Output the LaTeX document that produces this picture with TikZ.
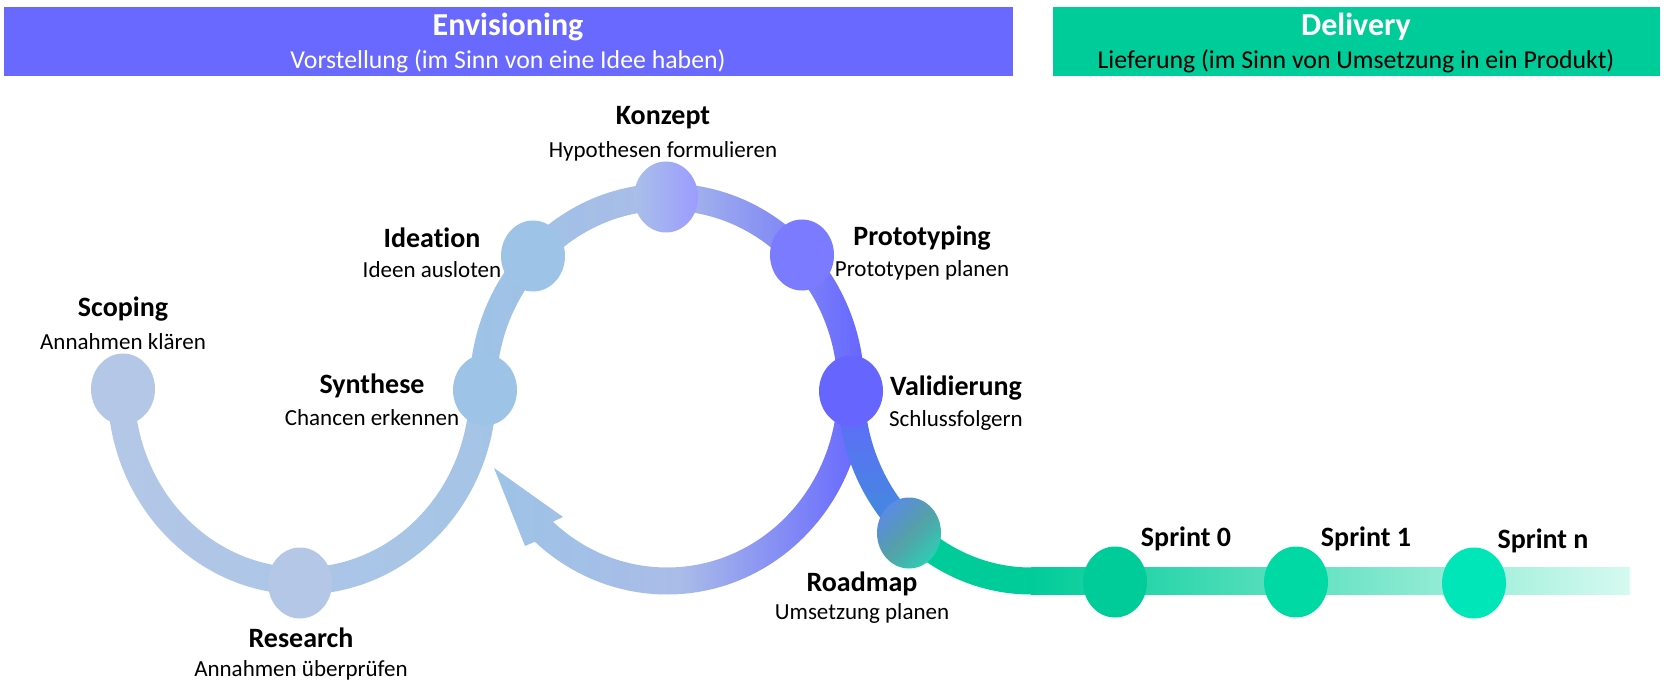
\documentclass[tikz,border=0pt]{standalone}
\usepackage{fontspec}
\setmainfont{Carlito}[Ligatures=NoCommon]
\usetikzlibrary{shapes.geometric}
\usetikzlibrary{calc}

\definecolor{envheader}{HTML}{6969FF}
\definecolor{envviolet}{HTML}{6666FF}
\definecolor{delgreen}{HTML}{00CC99}
\definecolor{scopeblue}{HTML}{B4C7E7}
\definecolor{synblue}{HTML}{9DC3E6}
\definecolor{midblue}{HTML}{AABCE8}
\definecolor{protoviolet}{HTML}{7B7BFF}
\definecolor{konzleft}{HTML}{A9C0E8}
\definecolor{konzright}{HTML}{9C9CFF}
\definecolor{roadblue}{HTML}{3D8FD9}
\definecolor{roadtop}{HTML}{5B8BE3}
\definecolor{roadmid}{HTML}{55A0A8}
\definecolor{roadteal}{HTML}{2ECCB3}
\definecolor{sprintone}{HTML}{00D9A3}
\definecolor{sprintn}{HTML}{00E6B8}
\definecolor{fadegreen}{HTML}{D6FAF0}

\tikzset{
  head_bar/.style={rectangle, draw=none, minimum height=34.5pt, inner sep=0},
  head_title/.style={font=\fontsize{16}{18}\selectfont\bfseries, text=white, inner sep=0},
  head_text/.style={font=\fontsize{12.9}{15}\selectfont, inner sep=0},
  stage_point/.style={ellipse, draw=none, minimum width=32pt, minimum height=35.5pt, inner sep=0},
  stage_title/.style={font=\fontsize{14}{16}\selectfont\bfseries, inner sep=0},
  stage_text/.style={font=\fontsize{11.5}{14}\selectfont, inner sep=0}
}

\begin{document}
\begin{tikzpicture}[x=0.5pt, y=-0.5pt]
\useasboundingbox (0,0) rectangle (1664,684);

%%% header bars
\node[head_bar, fill=envheader, minimum width=504.5pt] (env_bar) at (508.5,41.5) {};
\node[head_title] (env_title) at (508,27) {Envisioning};
\node[head_text, text=white] (env_text) at (508,61) {Vorstellung (im Sinn von eine Idee haben)};
\node[head_bar, fill=delgreen, minimum width=303.5pt] (del_bar) at (1356.5,41.5) {};
\node[head_title] (del_title) at (1356,27) {Delivery};
\node[head_text] (del_text) at (1356,61) {Lieferung (im Sinn von Umsetzung in ein Produkt)};

\coordinate (leftC) at (302,389);
\coordinate (loopC) at (667,389);
\coordinate (roadC) at (1031,389);

%%% left arc: Scoping - Research - Synthese
\shade[left color=scopeblue, right color=synblue!70!scopeblue]
  (leftC) ++(180:194.5 and 205.5)
  arc[start angle=180, end angle=0, x radius=194.5, y radius=205.5]
  -- ++(180:27)
  arc[start angle=0, end angle=180, x radius=167.5, y radius=178.5] -- cycle;

%%% loop top: Synthese - Konzept - Validierung
\shade[left color=synblue, right color=envviolet, middle color=midblue]
  (loopC) ++(180:197.5 and 205.5)
  arc[start angle=180, end angle=360, x radius=197.5, y radius=205.5]
  -- ++(180:27)
  arc[start angle=360, end angle=180, x radius=170.5, y radius=178.5] -- cycle;

%%% loop bottom, arrow back to Synthese
\shade[left color=synblue, right color=envviolet, middle color=midblue]
  (loopC) ++(0:197.5 and 205.5)
  arc[start angle=0, end angle=132, x radius=197.5, y radius=205.5]
  -- (525,546) -- (494,468) -- (563,517)
  -- ($(loopC)+(132:170.5 and 178.5)$)
  arc[start angle=132, end angle=0, x radius=170.5, y radius=178.5] -- cycle;

%%% branch Validierung - Roadmap
\shade[top color=envviolet, bottom color=roadblue]
  (roadC) ++(180:193.5 and 205.5)
  arc[start angle=180, end angle=132, x radius=193.5, y radius=205.5]
  -- ++(312:27)
  arc[start angle=132, end angle=180, x radius=166.5, y radius=178.5] -- cycle;

%%% green curve down to the sprint line
\fill[delgreen]
  (roadC) ++(132:193.5 and 205.5)
  arc[start angle=132, end angle=90, x radius=193.5, y radius=205.5]
  -- ++(270:27)
  arc[start angle=90, end angle=132, x radius=166.5, y radius=178.5] -- cycle;

%%% sprint line
\shade[left color=delgreen, right color=fadegreen] (1031,567.5) rectangle (1630,594.5);

%%% stage points
\node[stage_point, fill=scopeblue] (scoping) at (123,389) {};
\node[stage_point, fill=scopeblue] (research) at (300,583) {};
\node[stage_point, fill=synblue] (synthese) at (485,390) {};
\node[stage_point, fill=synblue] (ideation) at (533,256) {};
\node[stage_point, left color=konzleft, right color=konzright] (konzept) at (666,197) {};
\node[stage_point, fill=protoviolet] (prototyping) at (802,255) {};
\node[stage_point, fill=envviolet] (validierung) at (851,391) {};
\node[stage_point, top color=roadtop, bottom color=roadteal, middle color=roadmid, shading angle=45] (roadmap) at (909,533) {};
\node[stage_point, fill=delgreen] (sprint0) at (1115,582) {};
\node[stage_point, fill=sprintone] (sprint1) at (1296,582) {};
\node[stage_point, fill=sprintn] (sprintn) at (1474,583) {};

%%% stage labels
\node[stage_title] (scoping_title) at (123,309) {Scoping};
\node[stage_text] (scoping_text) at (123,342) {Annahmen klären};
\node[stage_title] (research_title) at (301,638) {Research};
\node[stage_text] (research_text) at (301,670) {Annahmen überprüfen};
\node[stage_title] (synthese_title) at (372,386) {Synthese};
\node[stage_text] (synthese_text) at (372,418) {Chancen erkennen};
\node[stage_title] (ideation_title) at (432,238) {Ideation};
\node[stage_text] (ideation_text) at (432,270) {Ideen ausloten};
\node[stage_title] (konzept_title) at (663,118) {Konzept};
\node[stage_text] (konzept_text) at (663,151) {Hypothesen formulieren};
\node[stage_title] (prototyping_title) at (922,238) {Prototyping};
\node[stage_text] (prototyping_text) at (922,270) {Prototypen planen};
\node[stage_title] (validierung_title) at (956,388) {Validierung};
\node[stage_text] (validierung_text) at (956,420) {Schlussfolgern};
\node[stage_title] (roadmap_title) at (862,584) {Roadmap};
\node[stage_text] (roadmap_text) at (862,613) {Umsetzung planen};

%%% sprint labels
\node[stage_title] (sprint0_title) at (1186,539) {Sprint 0};
\node[stage_title] (sprint1_title) at (1366,539) {Sprint 1};
\node[stage_title] (sprintn_title) at (1543,541) {Sprint n};

\end{tikzpicture}
\end{document}
